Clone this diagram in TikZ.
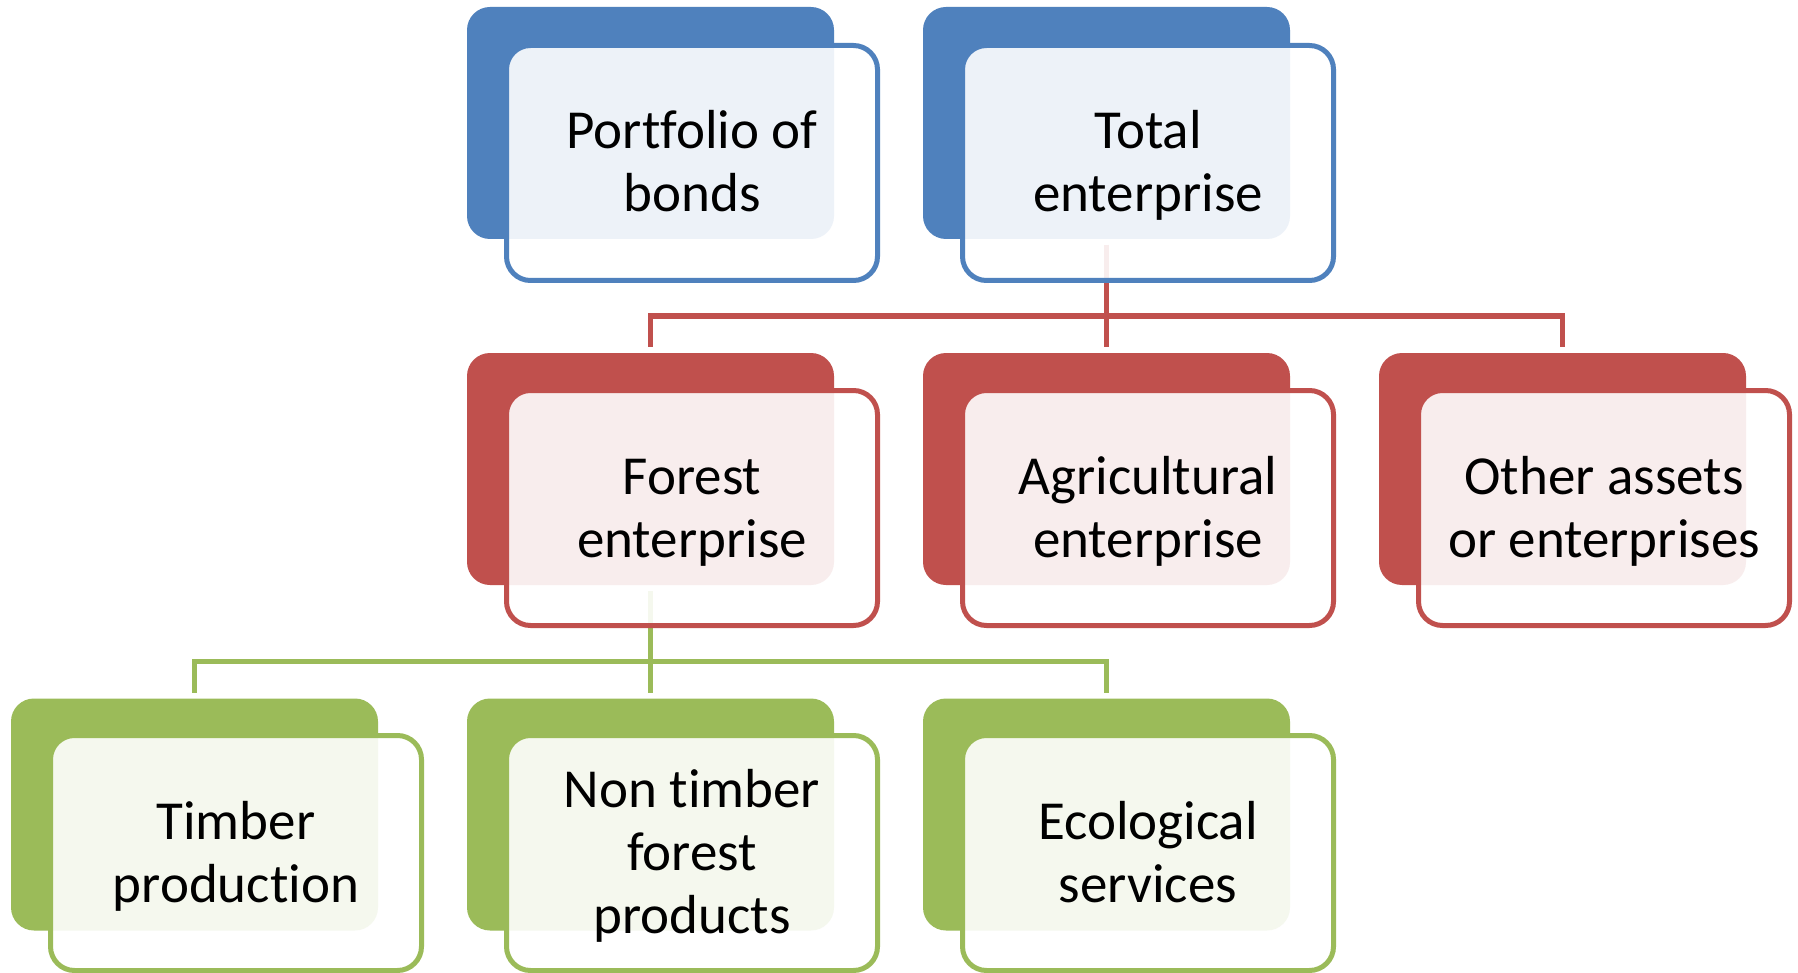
\documentclass[tikz,border=0pt]{standalone}
\usepackage{fontspec}
\setmainfont{Carlito}[Ligatures={NoCommon,NoRequired,NoContextual},RawFeature={-liga;-clig}]
\definecolor{accBlue}{HTML}{4F81BD}
\definecolor{accRed}{HTML}{C0504D}
\definecolor{accGreen}{HTML}{9BBB59}
\tikzset{
  backbox/.style={rectangle, rounded corners=23pt, minimum width=367pt,
    minimum height=232pt, inner sep=0pt, outer sep=0pt, fill=#1},
  frontbox/.style={rectangle, rounded corners=24pt, minimum width=371pt,
    minimum height=235pt, inner sep=0pt, outer sep=0pt, draw=#1,
    line width=5pt, fill=white, fill opacity=0.9, text opacity=1,
    align=center, text=black, font=\fontsize{55pt}{63pt}\selectfont,
    text height=98pt, text depth=0pt},
  threelines/.style={text height=161pt},
  conn/.style={draw=#1, line width=5.5pt},
}
\begin{document}
\begin{tikzpicture}[x=1pt,y=-1pt]
\fill[white] (0,0) rectangle (1798,973);
\useasboundingbox (0,0) rectangle (1798,973);

% coloured back panels
\node[backbox=accBlue]  (pbB) at (650.5,123) {};
\node[backbox=accBlue]  (teB) at (1106.5,123) {};
\node[backbox=accRed]   (feB) at (650.5,469) {};
\node[backbox=accRed]   (agB) at (1106.5,469) {};
\node[backbox=accRed]   (otB) at (1562.5,469) {};
\node[backbox=accGreen] (tpB) at (194.5,814.5) {};
\node[backbox=accGreen] (ntB) at (650.5,814.5) {};
\node[backbox=accGreen] (esB) at (1106.5,814.5) {};

% hierarchy connectors
\foreach \c in {feB,agB,otB}
  \draw[conn=accRed] ([yshift=-6pt]teB.south) |- ([yshift=37pt]\c.north)
    -- ([yshift=6pt]\c.north);
\foreach \c in {tpB,ntB,esB}
  \draw[conn=accGreen] ([yshift=-6pt]feB.south) |- ([yshift=37pt]\c.north)
    -- ([yshift=6pt]\c.north);

% framed text panels
\node[frontbox=accBlue]  (pb) at (692,163)  {Portfolio of\\bonds};
\node[frontbox=accBlue]  (te) at (1148,163) {Total\\enterprise};
\node[frontbox=accRed]   (fe) at (692,508)  {Forest\\enterprise};
\node[frontbox=accRed]   (ag) at (1148,508) {Agricultural\\enterprise};
\node[frontbox=accRed]   (ot) at (1604,508) {Other assets\\or enterprises};
\node[frontbox=accGreen] (tp) at (236,853)  {Timber\\production};
\node[frontbox=accGreen, threelines] (nt) at (692,853) {Non timber\\forest\\products};
\node[frontbox=accGreen] (es) at (1148,853) {Ecological\\services};
\end{tikzpicture}
\end{document}
